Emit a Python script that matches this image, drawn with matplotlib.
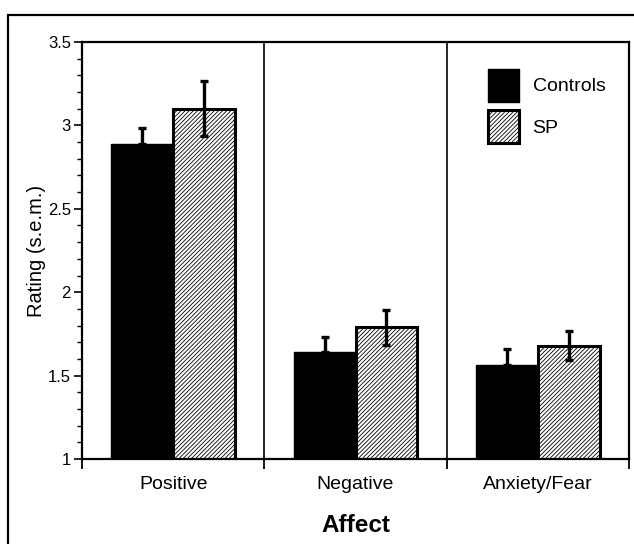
import matplotlib
matplotlib.use("Agg")
import matplotlib.pyplot as plt
from matplotlib.patches import Rectangle, Patch
import numpy as np

plt.rcParams['font.family'] = ['Liberation Sans', 'DejaVu Sans']
plt.rcParams['hatch.color'] = '#666666'
plt.rcParams['hatch.linewidth'] = 0.6

categories = ["Positive", "Negative", "Anxiety/Fear"]
controls = [2.89, 1.64, 1.565]
controls_err = [0.095, 0.09, 0.095]
sp = [3.10, 1.79, 1.68]
sp_err = [0.165, 0.105, 0.085]
series_labels = ["Controls", "SP"]
yticks = [1, 1.5, 2, 2.5, 3, 3.5]
ytick_labels = ["1", "1.5", "2", "2.5", "3", "3.5"]

W, H = 634, 544
fig = plt.figure(figsize=(W / 100, H / 100), dpi=100)
ax = fig.add_axes([82 / W, 1 - 459 / H, (629 - 82) / W, (459 - 42) / H])

# outer frame (cropped at right and bottom)
fig.patches.append(Rectangle((8 / W, -0.05), 1.1, 1 - 15 / H + 0.05,
                             transform=fig.transFigure, fill=False,
                             edgecolor='black', linewidth=1.6, clip_on=False))

x = np.arange(len(categories))
bw = 0.34
HATCH = '////////'
ax.bar(x - bw / 2, controls, bw, color='black', edgecolor='black',
       linewidth=1.0, zorder=2, label=series_labels[0])
ax.bar(x + bw / 2, sp, bw, color='white', edgecolor='black', hatch=HATCH,
       linewidth=2.2, zorder=2, label=series_labels[1])
ax.errorbar(x - bw / 2, controls, yerr=[np.zeros(3), controls_err], fmt='none',
            ecolor='black', elinewidth=2.4, capsize=2.8, capthick=2.4, zorder=3)
ax.errorbar(x + bw / 2, sp, yerr=sp_err, fmt='none',
            ecolor='black', elinewidth=2.4, capsize=2.8, capthick=2.4, zorder=3)

ax.set_xlim(-0.5, 2.5)
ax.set_ylim(1, 3.5)
for b in [0.5, 1.5]:
    ax.axvline(b, color='black', linewidth=1.2, zorder=1)

for s in ax.spines.values():
    s.set_linewidth(1.6)

ax.set_yticks(yticks)
ax.set_yticklabels(ytick_labels, fontsize=12)
ax.set_yticks(np.arange(1, 3.5001, 0.1), minor=True)
ax.tick_params(axis='y', which='major', direction='out', length=6, width=1.2, pad=2)
ax.tick_params(axis='y', which='minor', direction='out', length=3.5, width=1.0)
ax.tick_params(axis='y', which='both', right=False)

ax.set_xticks(x)
ax.set_xticklabels(categories, fontsize=14)
ax.set_xticks([-0.5, 0.5, 1.5, 2.5], minor=True)
ax.tick_params(axis='x', which='major', length=0, pad=12)
ax.tick_params(axis='x', which='minor', direction='out', length=7, width=1.3)

ax.set_ylabel("Rating (s.e.m.)", fontsize=14.5, labelpad=1)
ax.set_xlabel("Affect", fontsize=17.5, fontweight='bold', labelpad=15)

handles = [Patch(facecolor='black', edgecolor='black', linewidth=1.0),
           Patch(facecolor='white', edgecolor='black', hatch=HATCH, linewidth=2.2)]
ax.legend(handles, series_labels, loc='upper left', bbox_to_anchor=(0.742, 0.935),
          frameon=False, fontsize=14, handlelength=1.6, handleheight=2.2,
          labelspacing=0.45, handletextpad=0.7, borderpad=0, borderaxespad=0)

fig.savefig("out.png", dpi=100)
